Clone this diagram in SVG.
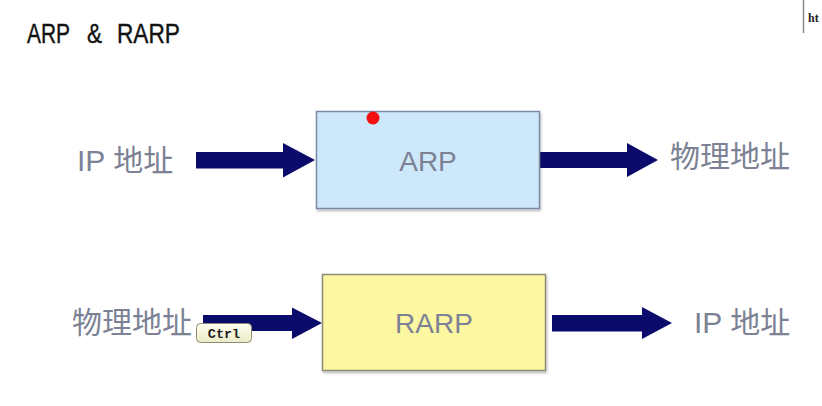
<svg xmlns="http://www.w3.org/2000/svg" width="822" height="406" viewBox="0 0 822 406">
<defs>
<style>
.lbl{font-family:"Liberation Sans","Noto Sans CJK SC",sans-serif;font-size:30px;fill:#7c8294;}
.box-text{font-family:"Liberation Sans",sans-serif;font-size:28px;fill:#7c8294;text-anchor:middle;}
.arrow{fill:#0b0b6b;}
.title{font-family:"Liberation Sans",sans-serif;font-size:28px;fill:#111;stroke:#111;stroke-width:0.4;}
</style>
<linearGradient id="tip" x1="0" y1="0" x2="0" y2="1">
<stop offset="0" stop-color="#fffef0"/>
<stop offset="1" stop-color="#ecebc8"/>
</linearGradient>
<filter id="sh" x="-5%" y="-5%" width="110%" height="115%">
<feDropShadow dx="1" dy="2" stdDeviation="1.2" flood-color="#000" flood-opacity="0.25"/>
</filter>
</defs>
<rect width="822" height="406" fill="#ffffff"/>
<g id="title">
<text class="title" x="27" y="43" textLength="43" lengthAdjust="spacingAndGlyphs">ARP</text>
<text class="title" x="87" y="43" textLength="15" lengthAdjust="spacingAndGlyphs">&amp;</text>
<text class="title" x="117" y="43" textLength="63" lengthAdjust="spacingAndGlyphs">RARP</text>
</g>
<line x1="803.5" y1="0" x2="803.5" y2="33" stroke="#888" stroke-width="1.5"/>
<text x="808" y="22" font-family="Liberation Serif,serif" font-weight="bold" font-size="12" fill="#222">ht</text>

<g id="connectors">
<polygon class="arrow" points="196,152 283,152 283,143 315,160 283,177.5 283,168.5 196,168.5"/>
<polygon class="arrow" points="540,152 627,152 627,143 658,160 627,177 627,168 540,168"/>
<polygon class="arrow" points="203,315 292,315 292,307.5 322,323 292,339 292,331 203,331"/>
<polygon class="arrow" points="552,315 642,315 642,307 672,323 642,339 642,331.5 552,331.5"/>
</g>

<g id="ip-in"><text class="lbl" x="77" y="171">IP 地址</text></g>
<g id="arp">
<rect x="316.5" y="111.5" width="223" height="97" fill="#cde7fb" stroke="#7d8aa4" stroke-width="1.5" filter="url(#sh)"/>
<text class="box-text" x="428" y="171">ARP</text>
</g>
<g id="mac-out"><text class="lbl" x="670" y="167">物理地址</text></g>

<g id="mac-in"><text class="lbl" x="72" y="333">物理地址</text></g>
<g id="rarp">
<rect x="322.5" y="274.5" width="223" height="96" fill="#fdf7a2" stroke="#8c8b78" stroke-width="1.5" filter="url(#sh)"/>
<text class="box-text" x="434" y="333">RARP</text>
</g>
<g id="ip-out"><text class="lbl" x="694" y="333">IP 地址</text></g>

<circle cx="373" cy="118" r="6.5" fill="#f21010"/>

<g id="ctrl-tip">
<rect x="196.5" y="323.5" width="55" height="19" rx="4" fill="url(#tip)" stroke="#8e8d74" stroke-width="1"/>
<text x="224" y="338" font-family="Liberation Mono,monospace" font-weight="bold" font-size="13.5" fill="#222" text-anchor="middle">Ctrl</text>
</g>
</svg>
